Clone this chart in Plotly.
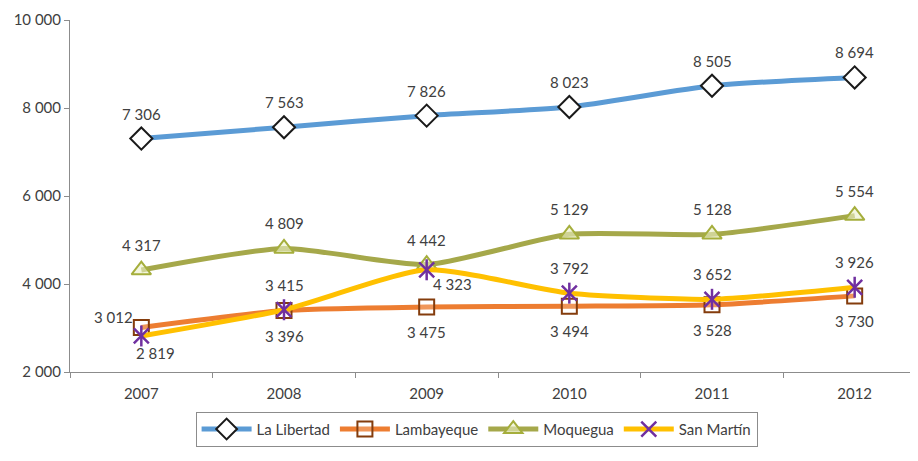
import plotly.graph_objects as go

years = ["2007", "2008", "2009", "2010", "2011", "2012"]
la_libertad = [7306, 7563, 7826, 8023, 8505, 8694]
lambayeque = [3012, 3396, 3475, 3494, 3528, 3730]
moquegua = [4317, 4809, 4442, 5129, 5128, 5554]
san_martin = [2819, 3415, 4323, 3792, 3652, 3926]
y_ticks = [2000, 4000, 6000, 8000, 10000]

FONT = "Lato, 'Open Sans', sans-serif"
TXT = "#404040"

UP = (0, 25)
DOWN = (0, -25)


def fmt(v):
    return f"{v:,}".replace(",", " ")


series = [
    dict(name="La Libertad", y=la_libertad, color="#5B9BD5",
         marker=dict(symbol="diamond", size=17, color="white", line=dict(color="#1a1a1a", width=2)),
         shift=[UP] * 6),
    dict(name="Lambayeque", y=lambayeque, color="#ED7D31",
         marker=dict(symbol="square", size=15, color="rgba(255,255,255,0.2)", line=dict(color="#843C0C", width=2)),
         shift=[(-28, 10)] + [DOWN] * 5),
    dict(name="Moquegua", y=moquegua, color="#A5A84A",
         marker=dict(symbol="triangle-up", size=17, color="rgba(235,240,200,0.6)", line=dict(color="#A5AE3C", width=2)),
         shift=[UP] * 6),
    dict(name="San Martín", y=san_martin, color="#FFC000",
         marker=dict(symbol="x-thin-open", size=15, color="#7030A0", line=dict(color="#7030A0", width=2.5)),
         shift=[(14, -17), UP, (26, -14), UP, UP, UP]),
]

fig = go.Figure()
for s in series:
    fig.add_trace(go.Scatter(
        x=years, y=s["y"], name=s["name"], mode="lines+markers",
        line=dict(color=s["color"], width=5, shape="spline", smoothing=0.6),
        marker=s["marker"]))
    if s["name"] == "San Martín":
        # vertical stroke to turn the x into an Excel-style star
        fig.add_trace(go.Scatter(
            x=years, y=s["y"], mode="markers", showlegend=False, hoverinfo="skip",
            marker=dict(symbol="line-ns-open", size=15, color="#7030A0",
                        line=dict(color="#7030A0", width=2.5))))

# data labels; category axes take the index for annotation positions
for s in series:
    for i, (v, (dx, dy)) in enumerate(zip(s["y"], s["shift"])):
        fig.add_annotation(x=i, y=v, xref="x", yref="y", text=fmt(v), showarrow=False,
                           xshift=dx, yshift=dy, font=dict(family=FONT, size=15, color=TXT))

# page body has an 8px margin, so the plot area is offset a little
fig.update_layout(
    width=918, height=461,
    margin=dict(l=62, r=0, t=12, b=97),
    paper_bgcolor="white", plot_bgcolor="white",
    font=dict(family=FONT, size=15, color=TXT),
    legend=dict(orientation="h", x=0.475, xanchor="center", y=-0.113, yanchor="top",
                bordercolor="#8c8c8c", borderwidth=1, font=dict(size=15, color=TXT),
                itemwidth=50, tracegroupgap=0),
)
fig.update_xaxes(
    type="category", range=[-0.5, 5.5], showgrid=False, showline=True, automargin=False,
    linecolor="#8c8c8c", linewidth=1, ticks="outside", tickson="boundaries",
    ticklen=5, tickcolor="#8c8c8c", ticklabelstandoff=8, tickfont=dict(size=15, color=TXT))
fig.update_yaxes(
    range=[2000, 10000], tickvals=y_ticks, ticktext=[fmt(v) for v in y_ticks], automargin=False,
    showgrid=False, zeroline=False, showline=True, linecolor="#8c8c8c", linewidth=1,
    ticks="outside", ticklen=5, tickcolor="#8c8c8c", tickfont=dict(size=15, color=TXT))

fig.write_html("out.html")
